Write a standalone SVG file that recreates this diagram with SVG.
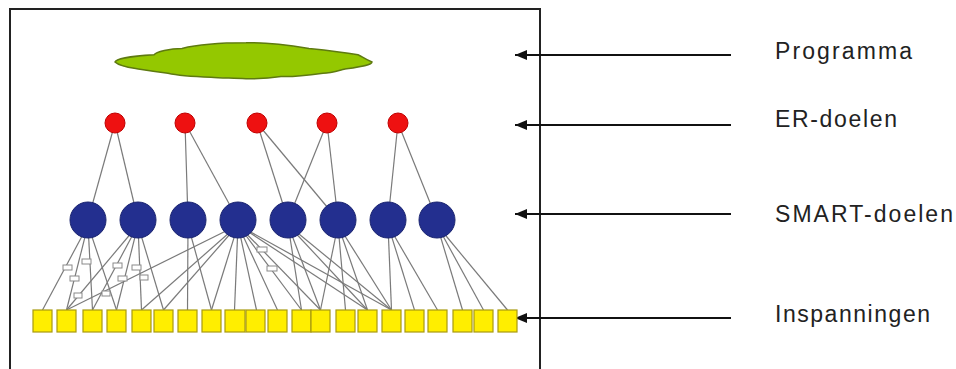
<svg xmlns="http://www.w3.org/2000/svg" width="956" height="369" viewBox="0 0 956 369">
<defs>
<style>
.frame{fill:none;stroke:#222;stroke-width:2}
.edge{stroke:#7a7a7a;stroke-width:1.2;fill:none}
.red{fill:#ee1111;stroke:#c00000;stroke-width:1}
.blue{fill:#232f8f;stroke:#1a2470;stroke-width:1}
.sq{fill:#ffee00;stroke:#a89a10;stroke-width:1.2}
.tag{fill:#fff;stroke:#8a8a8a;stroke-width:1}
.arr{stroke:#111;stroke-width:2;fill:none}
.lbl{font-family:"Liberation Sans",Arial,sans-serif;font-size:23px;fill:#222}
</style>
<marker id="ah" viewBox="0 0 12 10" refX="12" refY="5" markerWidth="12" markerHeight="10" markerUnits="userSpaceOnUse" orient="auto-start-reverse">
<path d="M0,0 L12,5 L0,10 Z" fill="#111"/>
</marker>
</defs>
<rect width="956" height="369" fill="#fff"/>
<path class="frame" d="M10,369 V9 H540 V369"/>

<g id="connectors">
<line class="edge" x1="115" y1="123" x2="88" y2="220"/>
<line class="edge" x1="115" y1="123" x2="138" y2="220"/>
<line class="edge" x1="185" y1="123" x2="188" y2="220"/>
<line class="edge" x1="185" y1="123" x2="238" y2="220"/>
<line class="edge" x1="257" y1="123" x2="288" y2="220"/>
<line class="edge" x1="257" y1="123" x2="338" y2="220"/>
<line class="edge" x1="327" y1="123" x2="288" y2="220"/>
<line class="edge" x1="327" y1="123" x2="338" y2="220"/>
<line class="edge" x1="398" y1="123" x2="388" y2="220"/>
<line class="edge" x1="398" y1="123" x2="437" y2="220"/>
<line class="edge" x1="88" y1="225" x2="42.5" y2="310"/>
<line class="edge" x1="88" y1="225" x2="66.5" y2="310"/>
<line class="edge" x1="88" y1="225" x2="92.5" y2="310"/>
<line class="edge" x1="88" y1="225" x2="116.5" y2="310"/>
<line class="edge" x1="138" y1="225" x2="66.5" y2="310"/>
<line class="edge" x1="138" y1="225" x2="92.5" y2="310"/>
<line class="edge" x1="138" y1="225" x2="116.5" y2="310"/>
<line class="edge" x1="138" y1="225" x2="141.5" y2="310"/>
<line class="edge" x1="138" y1="225" x2="163.5" y2="310"/>
<line class="edge" x1="188" y1="225" x2="187.5" y2="310"/>
<line class="edge" x1="188" y1="225" x2="211.5" y2="310"/>
<line class="edge" x1="238" y1="225" x2="66.5" y2="310"/>
<line class="edge" x1="238" y1="225" x2="141.5" y2="310"/>
<line class="edge" x1="238" y1="225" x2="163.5" y2="310"/>
<line class="edge" x1="238" y1="225" x2="211.5" y2="310"/>
<line class="edge" x1="238" y1="225" x2="234.5" y2="310"/>
<line class="edge" x1="238" y1="225" x2="256.5" y2="310"/>
<line class="edge" x1="238" y1="225" x2="277.5" y2="310"/>
<line class="edge" x1="238" y1="225" x2="301.5" y2="310"/>
<line class="edge" x1="238" y1="225" x2="320.5" y2="310"/>
<line class="edge" x1="238" y1="225" x2="367.5" y2="310"/>
<line class="edge" x1="238" y1="225" x2="391.5" y2="310"/>
<line class="edge" x1="288" y1="225" x2="301.5" y2="310"/>
<line class="edge" x1="288" y1="225" x2="320.5" y2="310"/>
<line class="edge" x1="288" y1="225" x2="367.5" y2="310"/>
<line class="edge" x1="288" y1="225" x2="391.5" y2="310"/>
<line class="edge" x1="338" y1="225" x2="320.5" y2="310"/>
<line class="edge" x1="338" y1="225" x2="345.5" y2="310"/>
<line class="edge" x1="338" y1="225" x2="367.5" y2="310"/>
<line class="edge" x1="338" y1="225" x2="391.5" y2="310"/>
<line class="edge" x1="388" y1="225" x2="391.5" y2="310"/>
<line class="edge" x1="388" y1="225" x2="414.5" y2="310"/>
<line class="edge" x1="388" y1="225" x2="437.5" y2="310"/>
<line class="edge" x1="437" y1="225" x2="462.5" y2="310"/>
<line class="edge" x1="437" y1="225" x2="483.5" y2="310"/>
<line class="edge" x1="437" y1="225" x2="507.5" y2="310"/>
<rect class="tag" x="63" y="265" width="9" height="5"/>
<rect class="tag" x="82" y="259" width="9" height="5"/>
<rect class="tag" x="70" y="276" width="9" height="5"/>
<rect class="tag" x="74" y="293" width="8" height="5"/>
<rect class="tag" x="113" y="263" width="9" height="5"/>
<rect class="tag" x="132" y="265" width="9" height="5"/>
<rect class="tag" x="118" y="276" width="9" height="5"/>
<rect class="tag" x="140" y="275" width="8" height="5"/>
<rect class="tag" x="102" y="291" width="8" height="5"/>
<rect class="tag" x="257" y="247" width="10" height="5"/>
<rect class="tag" x="267" y="266" width="10" height="5"/>
<line class="arr" x1="731" y1="55" x2="515" y2="55" marker-end="url(#ah)"/>
<line class="arr" x1="731" y1="125" x2="515" y2="125" marker-end="url(#ah)"/>
<line class="arr" x1="731" y1="214" x2="515" y2="214" marker-end="url(#ah)"/>
<line class="arr" x1="731" y1="318" x2="515" y2="318" marker-end="url(#ah)"/>
</g>

<g id="programma">
<path transform="translate(0,42) scale(1,0.8) translate(0,-45)" vector-effect="non-scaling-stroke" d="M115,70 C116,65 140,62 154,61 C156,57 170,53 182,53 C195,49 220,46 246,46 C265,45 285,48 309,53 C325,55 345,58 358,61 C362,63 364,66 372,70 C372,74 360,76 344,79 C335,82 330,84 323,84 C305,87 290,89 281,88 C265,91 250,91 246,91 C230,90 220,90 211,89 C190,88 175,86 168,84 C155,82 145,80 140,79 C130,77 120,76 115,70 Z" fill="#94c800" stroke="#5e7a10" stroke-width="1.5"/>
</g>

<g id="er-doelen">
<circle class="red" cx="115" cy="123" r="10"/>
<circle class="red" cx="185" cy="123" r="10"/>
<circle class="red" cx="257" cy="123" r="10"/>
<circle class="red" cx="327" cy="123" r="10"/>
<circle class="red" cx="398" cy="123" r="10"/>
</g>

<g id="smart-doelen">
<circle class="blue" cx="88" cy="220" r="18"/>
<circle class="blue" cx="138" cy="220" r="18"/>
<circle class="blue" cx="188" cy="220" r="18"/>
<circle class="blue" cx="238" cy="220" r="18"/>
<circle class="blue" cx="288" cy="220" r="18"/>
<circle class="blue" cx="338" cy="220" r="18"/>
<circle class="blue" cx="388" cy="220" r="18"/>
<circle class="blue" cx="437" cy="220" r="18"/>
</g>

<g id="inspanningen">
<rect class="sq" x="33" y="310" width="19" height="22"/>
<rect class="sq" x="57" y="310" width="19" height="22"/>
<rect class="sq" x="83" y="310" width="19" height="22"/>
<rect class="sq" x="107" y="310" width="19" height="22"/>
<rect class="sq" x="132" y="310" width="19" height="22"/>
<rect class="sq" x="154" y="310" width="19" height="22"/>
<rect class="sq" x="178" y="310" width="19" height="22"/>
<rect class="sq" x="202" y="310" width="19" height="22"/>
<rect class="sq" x="225" y="310" width="20" height="22"/>
<rect class="sq" x="246" y="310" width="19" height="22"/>
<rect class="sq" x="268" y="310" width="19" height="22"/>
<rect class="sq" x="292" y="310" width="19" height="22"/>
<rect class="sq" x="311" y="310" width="19" height="22"/>
<rect class="sq" x="336" y="310" width="19" height="22"/>
<rect class="sq" x="358" y="310" width="19" height="22"/>
<rect class="sq" x="382" y="310" width="19" height="22"/>
<rect class="sq" x="405" y="310" width="19" height="22"/>
<rect class="sq" x="428" y="310" width="19" height="22"/>
<rect class="sq" x="453" y="310" width="19" height="22"/>
<rect class="sq" x="474" y="310" width="19" height="22"/>
<rect class="sq" x="498" y="310" width="19" height="22"/>
</g>

<g id="labels">
<text class="lbl" x="775" y="59" textLength="137" lengthAdjust="spacing">Programma</text>
<text class="lbl" x="775" y="127" textLength="122" lengthAdjust="spacing">ER-doelen</text>
<text class="lbl" x="775" y="222" textLength="178" lengthAdjust="spacing">SMART-doelen</text>
<text class="lbl" x="775" y="322" textLength="155" lengthAdjust="spacing">Inspanningen</text>
</g>
</svg>
